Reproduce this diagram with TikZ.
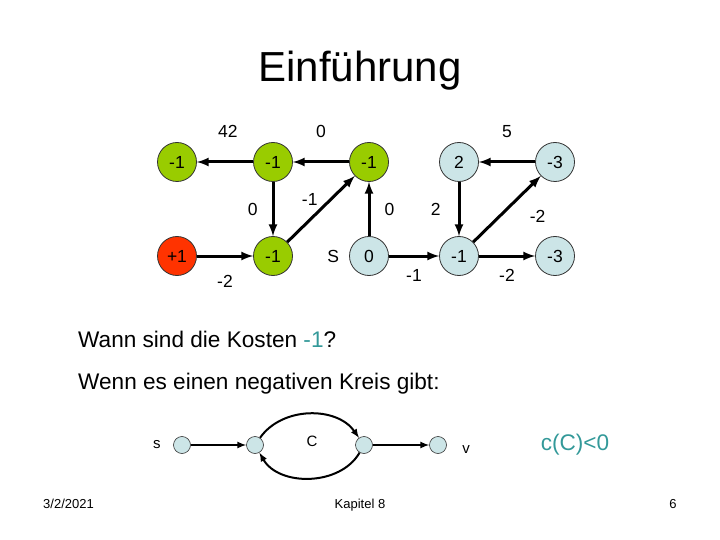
\documentclass[tikz,border=0pt]{standalone}
\usepackage{fontspec}
\setmainfont{Liberation Sans}
\usepackage{tikz}
\definecolor{knotgreen}{RGB}{153,204,0}
\definecolor{knotred}{RGB}{255,51,0}
\definecolor{knotblue}{RGB}{204,229,231}
\definecolor{costteal}{RGB}{51,153,153}

\begin{document}
\begin{tikzpicture}[x=1pt, y=-1pt, font=\fontsize{17.5}{21}\selectfont, node distance=96pt, >=latex, main/.style = {draw=black!80, circle, minimum size=39pt, inner sep=0pt, line width=0.8pt}, grn/.style = {main, fill=knotgreen}, rd/.style = {main, fill=knotred}, blu/.style = {main, fill=knotblue}, link/.style = {->, line width=3pt}, wt/.style = {inner sep=0pt}, dot/.style = {draw=black!80, circle, fill=knotblue, minimum size=17pt, inner sep=0pt, line width=0.6pt}, thinlink/.style = {->, line width=2pt}, sml/.style = {font=\fontsize{15}{18}\selectfont}, big/.style = {font=\fontsize{22.6}{27}\selectfont}]
                \useasboundingbox (0,0) rectangle (720,540);
                \node[font=\fontsize{42}{50}\selectfont, anchor=base] (title) at (360,82) {Einführung};
                \node[grn] (a) at (177,162) {-1};
                \node[grn] (b) [right of=a] {-1};
                \node[grn] (c) [right of=b] {-1};
                \node[blu] (d) at (459,162) {2};
                \node[blu] (e) [right of=d] {-3};
                \node[rd] (f) [node distance=94pt, below of=a] {+1};
                \node[grn] (g) [node distance=94pt, below of=b] {-1};
                \node[blu] (s) [node distance=94pt, below of=c, label={[label distance=6.5pt]left:S}] {0};
                \node[blu] (h) [node distance=94pt, below of=d] {-1};
                \node[blu] (i) [node distance=94pt, below of=e] {-3};
                \draw[link] (b) -- node[wt, above=22.5pt, pos=0.45] {42} (a);
                \draw[link] (c) -- node[wt, above=22.5pt] {0} (b);
                \draw[link] (b) -- node[wt, left=14pt] {0} (g);
                \draw[link] (f) -- node[wt, below=17.5pt] {-2} (g);
                \draw[link] (g) -- node[wt, above left=2pt] {-1} (c);
                \draw[link] (s) -- node[wt, right=14pt] {0} (c);
                \draw[link] (s) -- node[wt, below=11.5pt] {-1} (h);
                \draw[link] (e) -- node[wt, above=22.5pt] {5} (d);
                \draw[link] (d) -- node[wt, left=17pt] {2} (h);
                \draw[link] (h) -- node[wt, below right=10.5pt, pos=0.66] {-2} (e);
                \draw[link] (h) -- node[wt, below=11.5pt] {-2} (i);
                \node[big, anchor=base west, inner sep=0pt] (ask) at (78,347) {Wann sind die Kosten \textcolor{costteal}{-1}?};
                \node[big, anchor=base west, inner sep=0pt] (answer) at (78,389) {Wenn es einen negativen Kreis gibt:};
                \node[dot] (p) at (182,445) [label={[sml, label distance=9pt]left:s}] {};
                \node[dot] (q) at (255,445) {};
                \node[dot] (r) at (364,445) {};
                \node[dot] (t) at (438,445) [label={[sml, label distance=12pt, yshift=-5pt]right:v}] {};
                \node[sml] (cyc) at (312,441) {C};
                \draw[thinlink] (p) -- (q);
                \draw[thinlink] (q) to[bend left=55] (r);
                \draw[thinlink] (r) to[bend left=60] (q);
                \draw[thinlink] (r) -- (t);
                \node[big, text=costteal] (neg) at (575,445) {c(C)<0};
                \node[font=\fontsize{13}{16}\selectfont, anchor=base west, inner sep=0pt] (date) at (43,508) {3/2/2021};
                \node[font=\fontsize{13}{16}\selectfont, anchor=base, inner sep=0pt] (chap) at (360,508) {Kapitel 8};
                \node[font=\fontsize{13}{16}\selectfont, anchor=base, inner sep=0pt] (page) at (673,508) {6};
            \end{tikzpicture}
\end{document}
